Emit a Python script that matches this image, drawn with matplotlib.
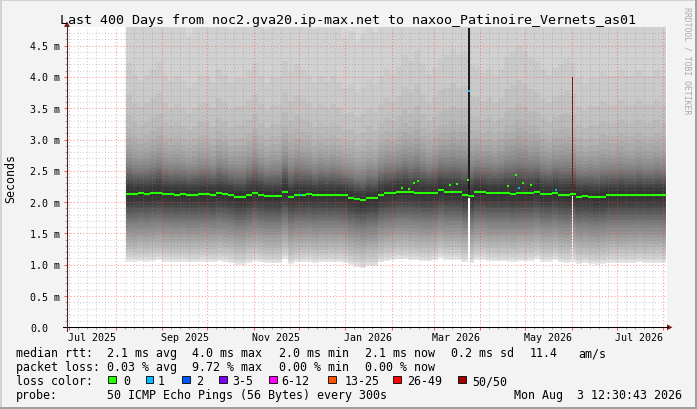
import numpy as np
import pandas as pd
import matplotlib
matplotlib.use("Agg")
import matplotlib.pyplot as plt
import matplotlib.dates as mdates
from matplotlib.patches import Rectangle, Polygon
from matplotlib.lines import Line2D
from matplotlib.transforms import blended_transform_factory, offset_copy

# ------------------------------------------------------------------ data
end_time = "2026-08-03 12:30:43"
span_days = 400
sample_start = "2025-08-08"
sample_step_days = 4

median_ms = [
    2.13, 2.13, 2.14, 2.13, 2.14, 2.15, 2.13, 2.13, 2.12, 2.13,
    2.12, 2.12, 2.13, 2.13, 2.12, 2.14, 2.13, 2.11, 2.08, 2.08,
    2.11, 2.14, 2.12, 2.10, 2.10, 2.10, 2.17, 2.09, 2.12, 2.12,
    2.13, 2.11, 2.12, 2.12, 2.12, 2.12, 2.11, 2.07, 2.05, 2.03,
    2.06, 2.06, 2.12, 2.14, 2.15, 2.17, 2.17, 2.16, 2.15, 2.14,
    2.14, 2.15, 2.19, 2.16, 2.16, 2.16, 2.12, 2.10, 2.16, 2.16,
    2.14, 2.14, 2.14, 2.14, 2.13, 2.14, 2.14, 2.14, 2.17, 2.13,
    2.13, 2.15, 2.12, 2.11, 2.13, 2.09, 2.10, 2.09, 2.08, 2.09,
    2.11, 2.11, 2.11, 2.11, 2.11, 2.12, 2.11, 2.11, 2.11, 2.11,
]

smoke_tail = [
    1.10, 1.00, 0.95, 1.00, 1.05, 1.10, 1.00, 0.95, 1.00, 0.95,
    0.90, 0.95, 1.00, 1.00, 0.95, 1.05, 1.00, 0.95, 1.00, 1.00,
    1.05, 1.10, 1.00, 0.95, 1.00, 1.00, 1.10, 1.05, 1.10, 1.05,
    1.00, 0.95, 1.00, 0.95, 1.00, 0.95, 0.90, 0.95, 0.90, 0.95,
    1.00, 0.95, 1.00, 1.05, 1.00, 1.05, 1.15, 1.10, 1.20, 1.10,
    1.00, 1.05, 1.10, 1.15, 1.20, 1.15, 1.20, 1.10, 1.05, 1.00,
    1.05, 1.00, 1.05, 1.15, 1.20, 1.25, 1.20, 1.15, 1.10, 1.05,
    1.00, 1.05, 1.10, 1.15, 1.10, 1.00, 0.95, 1.00, 1.00, 1.05,
    1.00, 1.00, 1.05, 1.00, 1.00, 1.05, 1.00, 1.00, 1.05, 1.00,
]

# typical sorted RTTs of the 50 pings (ms)
ping_profile_ms = [
    1.02, 1.04, 1.07, 1.09, 1.13, 1.17, 1.22, 1.27, 1.32, 1.37,
    1.42, 1.47, 1.52, 1.57, 1.62, 1.66, 1.70, 1.74, 1.78, 1.82,
    1.86, 1.89, 1.93, 1.98, 2.04,
    2.16, 2.21, 2.25, 2.28, 2.31, 2.34, 2.38, 2.41, 2.44, 2.48,
    2.52, 2.57, 2.62, 2.68, 2.75, 2.83, 2.93, 3.05, 3.25, 3.55,
    4.00, 4.90, 5.60, 6.50, 8.00,
]
profile_median_ms = 2.10

spike_dates = ["2026-02-07", "2026-02-12", "2026-02-15", "2026-02-18",
               "2026-03-11", "2026-03-16", "2026-03-23", "2026-04-19",
               "2026-04-24", "2026-04-29", "2026-05-04"]
spike_ms = [2.23, 2.21, 2.30, 2.34, 2.28, 2.29, 2.35, 2.26, 2.44, 2.31, 2.27]

column_dates = ["2026-03-24", "2026-06-01"]
column_top_ms = [4.79, 4.00]

loss1_dates = ["2025-12-02", "2026-03-24", "2026-04-26", "2026-05-21"]
loss1_ms = [2.12, 3.77, 2.23, 2.20]

y_max_ms = 4.794
ytick_values = [0.0, 0.5, 1.0, 1.5, 2.0, 2.5, 3.0, 3.5, 4.0, 4.5]
ytick_labels = ["0.0", "0.5 m", "1.0 m", "1.5 m", "2.0 m", "2.5 m",
                "3.0 m", "3.5 m", "4.0 m", "4.5 m"]
xtick_months = ["2025-07-01", "2025-09-01", "2025-11-01", "2026-01-01",
                "2026-03-01", "2026-05-01", "2026-07-01"]
xtick_labels = ["Jul 2025", "Sep 2025", "Nov 2025", "Jan 2026",
                "Mar 2026", "May 2026", "Jul 2026"]

title = "Last 400 Days from noc2.gva20.ip-max.net to naxoo_Patinoire_Vernets_as01"
rtt_stats = ["2.1 ms avg", "4.0 ms max", "2.0 ms min", "2.1 ms now",
             "0.2 ms sd", "11.4", "am/s"]
loss_stats = ["0.03 % avg", "9.72 % max", "0.00 % min", "0.00 % now"]
loss_bins = ["0", "1", "2", "3-5", "6-12", "13-25", "26-49", "50/50"]
probe_text = "50 ICMP Echo Pings (56 Bytes) every 300s"
stamp_text = "Mon Aug  3 12:30:43 2026"

# ------------------------------------------------------------------ style
W, H = 697, 410
MONO = "DejaVu Sans Mono"
loss_colors = ["#26ff00", "#00b8ff", "#0059ff", "#7e00ff", "#ff00ff",
               "#ff5500", "#ff0000", "#a10000"]
column_colors = ["#1c1c1c", "#6e0c0c"]
minor_grid = (0.5, 0.5, 0.5, 0.35)
major_grid = (1.0, 0.25, 0.25, 0.55)
dots = (0, (1, 2))

fig = plt.figure(figsize=(W / 100, H / 100), dpi=100)
fig.patch.set_facecolor("#F3F3F3")
PL, PT, PW, PH = 67, 28.3, 600, 300
ax = fig.add_axes([PL / W, 1 - (PT + PH) / H, PW / W, PH / H])
ax.set_facecolor("white")
for s in ax.spines.values():
    s.set_visible(False)

t_end = pd.Timestamp(end_time)
t_start = t_end - pd.Timedelta(days=span_days)
ax.set_xlim(mdates.date2num(t_start.to_pydatetime()), mdates.date2num(t_end.to_pydatetime()))
ax.set_ylim(0, y_max_ms)


def dnum(d):
    return mdates.date2num(pd.Timestamp(d).to_pydatetime())


# sample edges
n = len(median_ms)
t_samples = [pd.Timestamp(sample_start) + pd.Timedelta(days=sample_step_days * k) for k in range(n + 1)]
xs = np.array([dnum(t) for t in t_samples])
med = np.array(median_ms)
tail = np.array(smoke_tail)
prof = np.array(ping_profile_ms)
npings = len(prof)
half = npings // 2


def ext(a):
    return np.append(a, a[-1])


def sample_index(d):
    x = dnum(d)
    return int(np.clip(np.searchsorted(xs, x, side="right") - 1, 0, n - 1))


# smoke
for ib in range(1, half + 1):
    lo = prof[ib - 1] + (med - profile_median_ms)
    hi = med + (prof[npings - ib] - profile_median_ms) * tail
    g = (int(190 / half * (half - ib)) + 50) / 255
    ax.fill_between(xs, ext(lo), ext(hi), step="post", color=(g, g, g),
                    lw=0, zorder=1, antialiased=False)

# spike columns
for d, v in zip(spike_dates, spike_ms):
    k = sample_index(d)
    x0 = dnum(d)
    ax.fill_between([x0, x0 + 1], med[k] + 0.03, v, color="#3a3a3a", lw=0,
                    zorder=1.5, antialiased=False)

# special columns
for d, top, c in zip(column_dates, column_top_ms, column_colors):
    k = sample_index(d)
    x0 = dnum(d)
    m = med[k]
    ax.fill_between([x0, x0 + 1], prof[0] + (m - profile_median_ms), m - 0.03,
                    color="white", lw=0, zorder=1.5, antialiased=False)
    ax.fill_between([x0, x0 + 1], m + 0.03, top, color=c, lw=0,
                    zorder=1.5, antialiased=False)

# grid
month_starts = pd.date_range("2025-07-01", "2026-08-01", freq="MS")
xlo, xhi = ax.get_xlim()
major_x = [dnum(m) for m in month_starts if xlo < dnum(m) < xhi]
minor_x = []
for m in month_starts:
    for dd in (7, 13, 19, 25):
        v = dnum(m + pd.Timedelta(days=dd - 1))
        if xlo < v < xhi:
            minor_x.append(v)
hy_all = np.round(np.arange(0.1, y_max_ms, 0.1), 2)
minor_y = [v for v in hy_all if abs(v / 0.5 - round(v / 0.5)) > 1e-6]
major_y = [v for v in ytick_values if v > 0]

ax.vlines(minor_x, 0, y_max_ms, colors=[minor_grid], linestyles=dots, lw=0.75, zorder=3)
ax.hlines(minor_y, xlo, xhi, colors=[minor_grid], linestyles=dots, lw=0.75, zorder=3)
ax.vlines(major_x, 0, y_max_ms, colors=[major_grid], linestyles=dots, lw=0.75, zorder=3)
ax.hlines(major_y, xlo, xhi, colors=[major_grid], linestyles=dots, lw=0.75, zorder=3)

# ticks (marks only)
ax.set_xticks(major_x)
ax.set_xticks(minor_x, minor=True)
ax.set_yticks(ytick_values)
ax.set_yticks(minor_y, minor=True)
ax.tick_params(which="major", direction="out", length=2.2, width=0.75,
               color=(1.0, 0.35, 0.35), labelbottom=False, labelleft=False)
ax.tick_params(which="minor", direction="out", length=1.5, width=0.75,
               color=(0.65, 0.65, 0.65))

# median line
ax.hlines(med, xs[:-1], xs[1:], colors="#26ff00", lw=1.5, zorder=4, capstyle="butt")
for d, v in zip(spike_dates, spike_ms):
    x0 = dnum(d)
    ax.hlines(v, x0, x0 + 1.4, colors="#26ff00", lw=1.5, zorder=4, capstyle="butt")
for d, v in zip(loss1_dates, loss1_ms):
    x0 = dnum(d)
    ax.hlines(v, x0, x0 + 1.4, colors=loss_colors[1], lw=1.5, zorder=5, capstyle="butt")


# ------------------------------------------------------------------ frame / axes
def fx(px):
    return px / W


def fy(py):
    return 1 - py / H


fig.add_artist(Line2D([fx(63), fx(668)], [fy(PT + PH)] * 2, color="black", lw=0.75))
fig.add_artist(Line2D([fx(PL)] * 2, [fy(332), fy(26)], color="#3a2a2a", lw=0.75))
fig.add_artist(Polygon([(fx(672.5), fy(PT + PH)), (fx(667), fy(PT + PH - 3)), (fx(667), fy(PT + PH + 3))],
                       closed=True, color="#8a1c1c", lw=0))
fig.add_artist(Polygon([(fx(PL), fy(22.5)), (fx(PL - 3), fy(28)), (fx(PL + 3), fy(28))],
                       closed=True, color="#8a1c1c", lw=0))

# 3D frame
fig.add_artist(Line2D([0, 1], [fy(0.7)] * 2, color="#D2D2D2", lw=1.44))
fig.add_artist(Line2D([fx(0.7)] * 2, [0, 1], color="#D2D2D2", lw=1.44))
fig.add_artist(Line2D([0, 1], [fy(H - 0.7)] * 2, color="#A0A0A0", lw=1.44))
fig.add_artist(Line2D([fx(W - 0.7)] * 2, [0, 1], color="#A0A0A0", lw=1.44))

# ------------------------------------------------------------------ texts
fig.text(fx(348.5), fy(24), title, ha="center", va="baseline", family=MONO, fontsize=9.6)
fig.text(fx(10.8), fy(PT + PH / 2), "Seconds", rotation=90, ha="center", va="center",
         family=MONO, fontsize=8.4)
fig.text(fx(687), fy(60.5), "RRDTOOL / TOBI OETIKER", rotation=270, ha="center", va="center",
         family=MONO, fontsize=5.9, color="#AAAAAA")

ytrans = offset_copy(blended_transform_factory(fig.transFigure, ax.transData),
                     fig=fig, x=0, y=-3.5, units="dots")
for v, s in zip(ytick_values, ytick_labels):
    fig.text(fx(30.0), v, s, transform=ytrans, ha="left", va="baseline",
             family=MONO, fontsize=7.2)

xtrans = blended_transform_factory(ax.transData, fig.transFigure)
for m, s in zip(xtick_months, xtick_labels):
    xc = dnum(pd.Timestamp(m) + pd.Timedelta(days=15))
    fig.text(xc, fy(340.7), s, transform=xtrans, ha="center", va="baseline",
             family=MONO, fontsize=7.2)

LEG = 8.4
rows = [357.5, 371.5, 385.5, 399.5]
fig.text(fx(16), fy(rows[0]), "median rtt:", family=MONO, fontsize=LEG, va="baseline")
for s, px in zip(rtt_stats, [107, 192.5, 279, 365.3, 451, 529.3, 578.5]):
    fig.text(fx(px), fy(rows[0]), s, family=MONO, fontsize=LEG, va="baseline")
fig.text(fx(16), fy(rows[1]), "packet loss:", family=MONO, fontsize=LEG, va="baseline")
for s, px in zip(loss_stats, [107, 192.5, 278.7, 365.3]):
    fig.text(fx(px), fy(rows[1]), s, family=MONO, fontsize=LEG, va="baseline")
fig.text(fx(16), fy(rows[2]), "loss color:", family=MONO, fontsize=LEG, va="baseline")
sq_x = [108.3, 145.7, 182.3, 219.3, 269.3, 328.3, 393.3, 458.3]
lab_x = [123.3, 157.3, 196, 232.6, 281, 344.3, 407.6, 472.6]
for s, c, sx, lx in zip(loss_bins, loss_colors, sq_x, lab_x):
    fig.add_artist(Rectangle((fx(sx), fy(384.3)), 7.4 / W, 7.3 / H, facecolor=c,
                             edgecolor="black", lw=0.6))
    fig.text(fx(lx), fy(rows[2]), s, family=MONO, fontsize=LEG, va="baseline")
fig.text(fx(16), fy(rows[3]), "probe:", family=MONO, fontsize=LEG, va="baseline")
fig.text(fx(107), fy(rows[3]), probe_text, family=MONO, fontsize=LEG, va="baseline")
fig.text(fx(682), fy(rows[3]), stamp_text, family=MONO, fontsize=LEG, va="baseline", ha="right")

fig.savefig("out.png", dpi=100, facecolor=fig.get_facecolor())
